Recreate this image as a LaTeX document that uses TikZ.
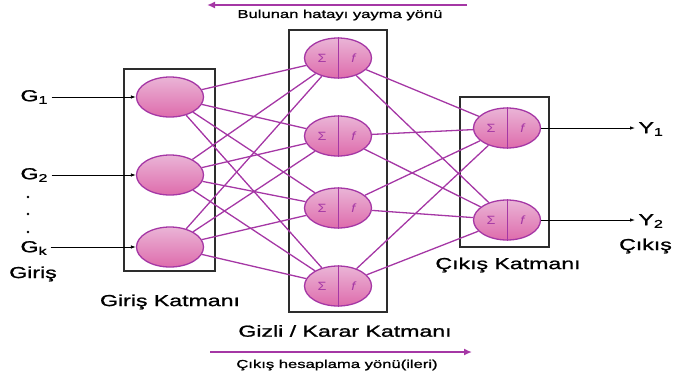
\documentclass[tikz,border=0pt]{standalone}
\usepackage{fontspec}
\setmainfont[FakeStretch=1.45, FakeBold=1.2]{Liberation Sans}
\newfontfamily\symbfont[FakeStretch=1.2]{Liberation Sans}
\usetikzlibrary{shapes.geometric,arrows.meta}

\definecolor{nnpurple}{RGB}{165,55,165}
\definecolor{pinktop}{RGB}{234,180,214}
\definecolor{pinkbot}{RGB}{222,108,172}
\definecolor{boxgray}{RGB}{45,45,45}

\newcommand{\layerfont}{\fontsize{16}{18}\selectfont}
\newcommand{\flowfont}{\fontsize{11.5}{13}\selectfont}

\tikzset{
  neuron/.style={ellipse, draw=nnpurple, line width=1.3bp, top color=pinktop,
    bottom color=pinkbot, minimum width=67bp, minimum height=40bp, inner sep=0pt},
  link/.style={draw=nnpurple, line width=1.3bp},
  layerbox/.style={draw=boxgray, line width=1.8bp},
  flow/.style={draw=nnpurple, line width=2.6bp, -{Latex[length=8bp,width=7bp]}},
  signal/.style={draw=black, line width=0.8bp, -{Latex[length=5bp,width=3.5bp]}},
  symb/.style={text=nnpurple, font=\symbfont\fontsize{12}{13}\selectfont, inner sep=0pt}
}

\begin{document}
\begin{tikzpicture}[x=1bp,y=-1bp]
\useasboundingbox (0,0) rectangle (673,375);

% katman kutulari
\draw[layerbox] (124,69) rectangle (215,271);
\draw[layerbox] (289,30) rectangle (387,312);
\draw[layerbox] (460,97) rectangle (549,247);

% noronlar
\node[neuron] (in1) at (170,97) {};
\node[neuron] (in2) at (170,175) {};
\node[neuron] (in3) at (170,247) {};
\foreach \i/\y in {1/58,2/136,3/208,4/286}
  \node[neuron] (hid\i) at (338,\y) {};
\node[neuron] (out1) at (507,128) {};
\node[neuron] (out2) at (507,220) {};

\foreach \n in {hid1,hid2,hid3,hid4,out1,out2} {
  \draw[nnpurple, line width=1bp] (\n.north) -- (\n.south);
  \node[symb] at ([xshift=-16bp]\n.center) {Σ};
  \node[symb] at ([xshift=16bp]\n.center) {\textit{f}};
}

% baglantilar
\foreach \i in {1,2,3}
  \foreach \j in {1,2,3,4}
    \draw[link] (in\i) -- (hid\j);
\foreach \j in {1,2,3,4}
  \foreach \k in {1,2}
    \draw[link] (hid\j) -- (out\k);

% girisler
\node[anchor=west, font=\layerfont] (g1) at (17,97) {G\textsubscript{1}};
\node[anchor=west, font=\layerfont] (g2) at (17,175) {G\textsubscript{2}};
\node[anchor=west, font=\layerfont] (gk) at (17,248) {G\textsubscript{k}};
\fill (28,197) circle (1.3);
\fill (28,214) circle (1.3);
\fill (28,232) circle (1.3);
\draw[signal] (g1.east |- in1.west) -- (in1.west);
\draw[signal] (g2.east |- in2.west) -- (in2.west);
\draw[signal] (gk.east |- in3.west) -- (in3.west);
\node[font=\layerfont] (giris) at (33,274) {Giriş};

% cikislar
\node[anchor=west, font=\layerfont] (y1) at (635,129) {Y\textsubscript{1}};
\node[anchor=west, font=\layerfont] (y2) at (635,221) {Y\textsubscript{2}};
\draw[signal] (out1.east) -- (out1.east -| y1.west);
\draw[signal] (out2.east) -- (out2.east -| y2.west);
\node[anchor=east, font=\layerfont, inner sep=1bp] (cikis) at (673,246) {Çıkış};

% katman adlari
\node[font=\layerfont] (girisk) at (170,302) {Giriş Katmanı};
\node[font=\layerfont] (gizlik) at (345,331) {Gizli / Karar Katmanı};
\node[font=\layerfont] (cikisk) at (508,265) {Çıkış Katmanı};

% yonler
\coordinate (backR) at (467,5);
\coordinate (backL) at (207,5);
\draw[flow] (backR) -- (backL);
\node[font=\flowfont] (geri) at (340,15) {Bulunan hatayı yayma yönü};
\coordinate (fwdL) at (210,352);
\coordinate (fwdR) at (472,352);
\draw[flow] (fwdL) -- (fwdR);
\node[font=\flowfont] (ileri) at (337,365) {Çıkış hesaplama yönü(ileri)};
\end{tikzpicture}
\end{document}
